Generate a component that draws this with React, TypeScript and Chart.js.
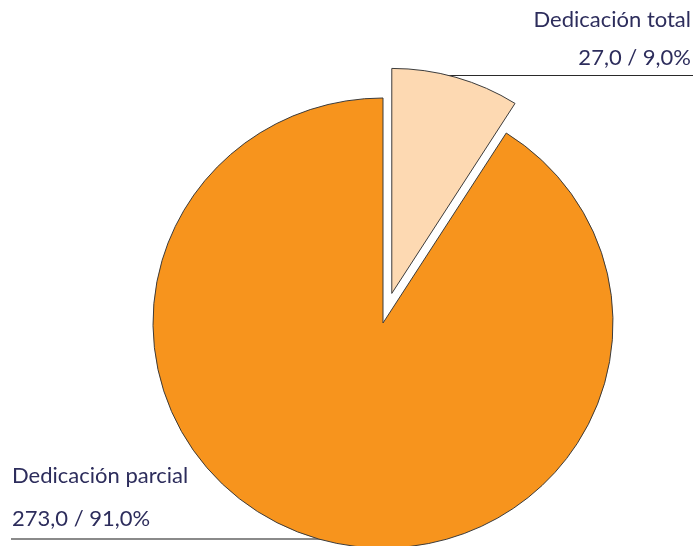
import React, { useEffect, useRef } from "react";
import { Chart, registerables } from "chart.js";

Chart.register(...registerables);

const categories = ["Dedicación total", "Dedicación parcial"];
const values = [27.0, 273.0];
const percents = [9.0, 91.0];
const colors = ["#FDD9B2", "#F7941D"];
const explode = [31.5, 0];

const fmt = (n: number) => n.toFixed(1).replace(".", ",");

export default function App() {
  const ref = useRef<HTMLCanvasElement>(null);
  useEffect(() => {
    document.body.style.margin = "0";
    const canvas = ref.current!;
    const labelPlugin = {
      id: "labels",
      beforeDatasetsDraw(chart: any) {
        const ctx = chart.ctx;
        ctx.save();
        ctx.strokeStyle = "#2a2a2a";
        ctx.lineWidth = 1;
        ctx.beginPath();
        ctx.moveTo(430, 75.5);
        ctx.lineTo(693, 75.5);
        ctx.stroke();
        ctx.strokeStyle = "#8a8a8a";
        ctx.lineWidth = 2;
        ctx.beginPath();
        ctx.moveTo(11, 539);
        ctx.lineTo(360, 539);
        ctx.stroke();
        ctx.restore();
        // exploded slice: shift the arc outward along its mid-angle, keeping its radius
        const meta = chart.getDatasetMeta(0);
        meta.data.forEach((arc: any, i: number) => {
          const d = explode[i] || 0;
          if (!d || arc.__exploded) return;
          const orig = arc.draw.bind(arc);
          arc.draw = (c: CanvasRenderingContext2D) => {
            const mid = (arc.startAngle + arc.endAngle) / 2;
            c.save();
            c.translate(Math.cos(mid) * d, Math.sin(mid) * d);
            orig(c);
            c.restore();
          };
          arc.__exploded = true;
        });
        // slight vertical squash of the pie, as in the reference
        const a = chart.chartArea;
        const cx = (a.left + a.right) / 2;
        const cy = (a.top + a.bottom) / 2;
        ctx.save();
        ctx.translate(cx, cy);
        ctx.scale(1, 225 / 230);
        ctx.translate(-cx, -cy);
      },
      afterDatasetsDraw(chart: any) {
        chart.ctx.restore();
      },
      afterDraw(chart: any) {
        const ctx = chart.ctx;
        ctx.save();
        ctx.fillStyle = "#2d2d5c";
        ctx.font = "22px Lato";
        ctx.textBaseline = "alphabetic";
        ctx.textAlign = "right";
        ctx.fillText(categories[0], 691, 27);
        ctx.fillText(`${fmt(values[0])} / ${fmt(percents[0])}%`, 691, 65);
        ctx.textAlign = "left";
        ctx.fillText(categories[1], 12, 483);
        ctx.fillText(`${fmt(values[1])} / ${fmt(percents[1])}%`, 12, 526);
        ctx.restore();
      },
    };
    const chart = new Chart(canvas, {
      type: "pie",
      data: {
        labels: categories,
        datasets: [
          {
            data: values,
            backgroundColor: colors,
            borderColor: "#3a3a3a",
            borderWidth: 1,
            borderJoinStyle: "miter",
          } as any,
        ],
      },
      options: {
        responsive: false,
        animation: false,
        radius: 230,
        layout: { padding: { left: 67, right: 0, top: 100, bottom: 0 } },
        plugins: {
          legend: { display: false },
          tooltip: { enabled: false },
        },
      } as any,
      plugins: [labelPlugin],
    });
    return () => chart.destroy();
  }, []);
  return (
    <div style={{ width: 699, height: 546 }}>
      <canvas ref={ref} width={699} height={546} />
    </div>
  );
}
